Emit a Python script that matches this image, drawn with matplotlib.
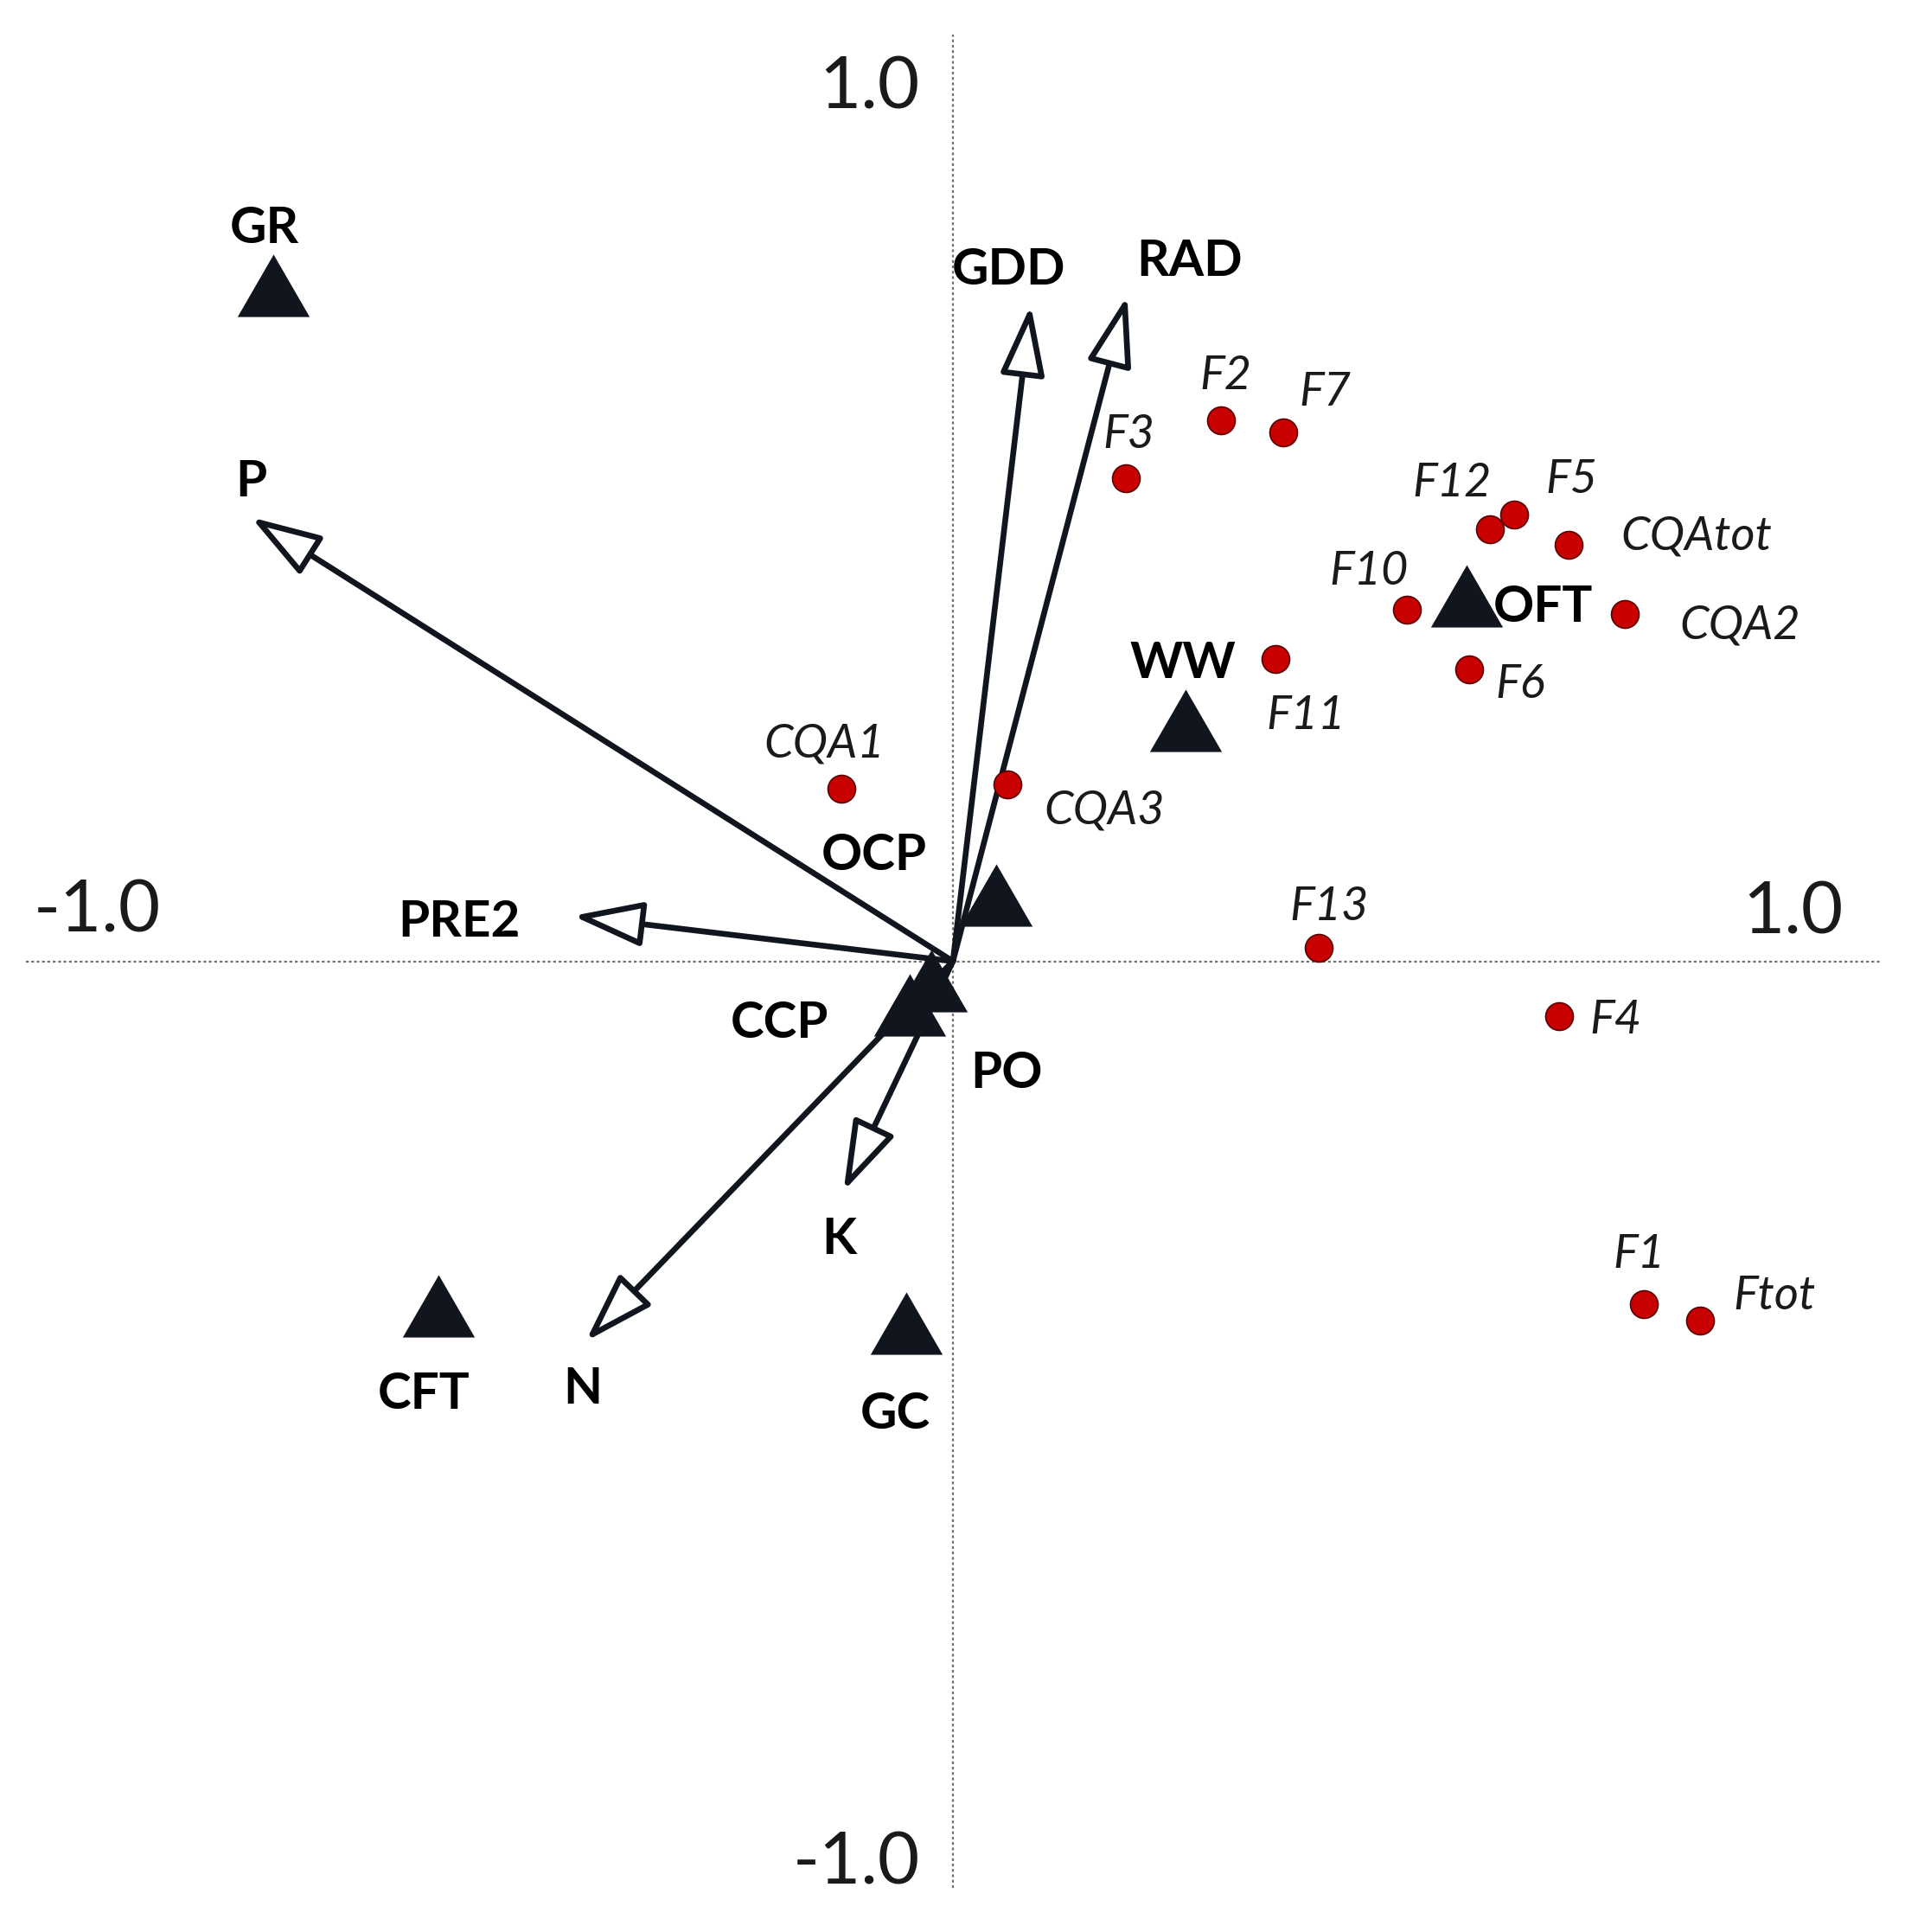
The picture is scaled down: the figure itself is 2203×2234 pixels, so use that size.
import matplotlib
matplotlib.use('Agg')
import matplotlib.pyplot as plt

# sites (triangles)
sites = ['GR', 'OFT', 'WW', 'OCP', 'CCP', 'PO', 'GC', 'CFT']
site_x = [-0.733, 0.554, 0.251, 0.047, -0.047, -0.023, -0.050, -0.555]
site_y = [0.729, 0.394, 0.260, 0.071, -0.047, -0.021, -0.391, -0.372]

# environmental variables (arrows)
env = ['P', 'PRE2', 'GDD', 'RAD', 'N', 'K']
env_x = [-0.757, -0.410, 0.084, 0.188, -0.396, -0.118]
env_y = [0.479, 0.049, 0.708, 0.718, -0.410, -0.248]

# compounds (red dots)
species = ['F2', 'F7', 'F3', 'F12', 'F5', 'CQAtot', 'F10', 'CQA2', 'F6', 'F11',
           'CQA3', 'F13', 'CQA1', 'F4', 'F1', 'Ftot']
sp_x = [0.289, 0.356, 0.187, 0.579, 0.605, 0.664, 0.490, 0.725, 0.557, 0.348,
        0.059, 0.395, -0.120, 0.654, 0.745, 0.806]
sp_y = [0.584, 0.571, 0.521, 0.466, 0.482, 0.449, 0.379, 0.375, 0.315, 0.326,
        0.191, 0.014, 0.186, -0.059, -0.370, -0.388]

# label placement (centre of text)
site_lab = [(-0.743, 0.795), (0.637, 0.386), (0.248, 0.325), (-0.085, 0.118),
            (-0.187, -0.063), (0.058, -0.117), (-0.062, -0.485), (-0.571, -0.463)]
env_lab = [(-0.757, 0.521), (-0.533, 0.046), (0.060, 0.750), (0.255, 0.759),
           (-0.399, -0.458), (-0.123, -0.296)]
sp_lab = [(0.294, 0.635), (0.401, 0.618), (0.190, 0.572), (0.538, 0.520),
          (0.667, 0.523), (0.802, 0.462), (0.449, 0.424), (0.849, 0.366),
          (0.612, 0.302), (0.381, 0.269), (0.163, 0.166), (0.406, 0.0625),
          (-0.139, 0.238), (0.715, -0.060), (0.740, -0.313), (0.886, -0.358)]

dark = '#11161e'
red = '#c80000'
font = 'Lato'

fig = plt.figure(figsize=(22.03, 22.34), dpi=100)
ax = fig.add_axes([30 / 2203, 51 / 2234, 2144 / 2203, 2143 / 2234])
ax.set_xlim(-1, 1)
ax.set_ylim(-1, 1)
ax.axis('off')

# dotted axes through origin
ax.axhline(0, color='#6e6e6e', lw=1.6, dashes=(1.4, 1.4), zorder=1)
ax.axvline(0, color='#6e6e6e', lw=1.6, dashes=(1.4, 1.4), zorder=1)

# arrows
for x, y in zip(env_x, env_y):
    ax.annotate('', xy=(x, y), xytext=(0, 0),
                arrowprops=dict(arrowstyle='-|>,head_length=5.0,head_width=1.6',
                                mutation_scale=10, fc='white', ec=dark, lw=4.8,
                                shrinkA=0, shrinkB=0),
                zorder=2)

# triangles
tri = [(-1, -0.866), (1, -0.866), (0, 0.866)]
ax.plot(site_x, site_y, ls='none', marker=tri, ms=60, color=dark, mew=0, zorder=4)

# red dots
ax.plot(sp_x, sp_y, ls='none', marker='o', ms=23, mfc=red, mec='#5a0000', mew=1.2,
        zorder=5)

# labels (baseline placed half a cap height below the centre)
for name, (x, y) in zip(sites, site_lab):
    ax.text(x, y - 0.0196, name, ha='center', va='baseline', fontsize=42,
            fontweight='bold', family=font, color='black', zorder=6)
for name, (x, y) in zip(env, env_lab):
    ax.text(x, y - 0.0196, name, ha='center', va='baseline', fontsize=42,
            fontweight='bold', family=font, color='black', zorder=6)
for name, (x, y) in zip(species, sp_lab):
    ax.text(x, y - 0.018, name, ha='center', va='baseline', fontsize=39,
            style='italic', family=font, color='#1a1a1a', zorder=6)

# axis end labels
for x, y, s in [(-0.090, 0.948, '1.0'), (-0.923, 0.060, '-1.0'),
                (0.906, 0.058, '1.0'), (-0.104, -0.968, '-1.0')]:
    ax.text(x, y - 0.028, s, ha='center', va='baseline', fontsize=60,
            family=font, color='#1a1a1a')

fig.savefig('out.png', dpi=100)
